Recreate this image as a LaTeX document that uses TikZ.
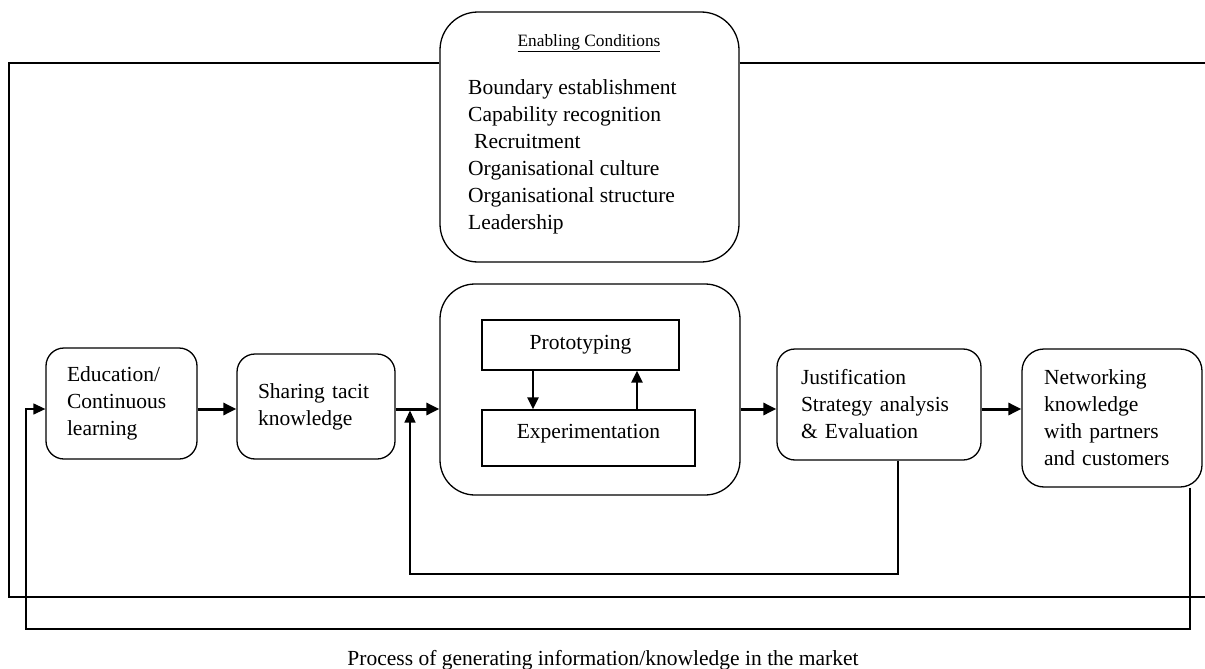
\documentclass[tikz,border=0pt]{standalone}
\usepackage{fontspec}
\setmainfont{Liberation Serif}
\usetikzlibrary{arrows.meta}

\newcommand{\boxfont}{\fontsize{21.5}{27}\selectfont}
\tikzset{
	stage/.style = {draw, line width=1.3pt, rounded corners=18pt, align=left, inner xsep=21pt, inner ysep=0pt, font=\boxfont},
	inbox/.style = {draw, line width=1.3pt, inner sep=0pt, font=\boxfont},
	mainarrow/.style = {line width=3pt, -{Triangle[length=13pt, width=12pt]}},
	innerarrow/.style = {line width=2.5pt, -{Triangle[length=12pt, width=11pt]}},
	feedback/.style = {line width=1.3pt, -{Triangle[length=12pt, width=11pt]}}
}

\begin{document}
\begin{tikzpicture}[x=1pt, y=-1pt]
\useasboundingbox (0,0) rectangle (1205,669);

\node[draw, line width=1.3pt, rounded corners=38pt, minimum width=299pt, minimum height=250pt] (cond) at (589.5,137) {};
\node[font=\fontsize{17.3}{20}\selectfont] (condtitle) at (589,43) {\underline{Enabling Conditions}};
\node[anchor=west, align=left, inner sep=0pt, font=\boxfont] (condlist) at (468,156.5) {Boundary establishment\\Capability recognition\\\hspace{6pt}Recruitment\\Organisational culture\\Organisational structure\\Leadership};

\draw[line width=1.3pt] (cond.west |- 0,63) -- (9,63) -- (9,597) -- (1205,597);
\draw[line width=1.3pt] (cond.east |- 0,63) -- (1205,63);

\node[stage, text width=109pt, minimum height=111pt] (edu) at (121.5,403.5) {Education/\\Continuous\\learning};
\node[stage, text width=116pt, minimum height=105pt] (share) at (316,406.5) {Sharing tacit\\knowledge};
\node[draw, line width=1.3pt, rounded corners=35pt, minimum width=300pt, minimum height=211pt] (cycle) at (590,389.5) {};
\node[inbox, minimum width=197pt, minimum height=50pt] (proto) at (580.5,345) {Prototyping};
\node[inbox, minimum width=213pt, minimum height=56pt, text height=15pt, text depth=15pt] (expe) at (588.5,438) {Experimentation};
\node[stage, inner xsep=24pt, text width=156pt, minimum height=111pt] (just) at (879,404.5) {Justification\\Strategy analysis\\\& Evaluation};
\node[stage, rounded corners=22pt, inner xsep=22pt, text width=136pt, minimum height=138pt] (net) at (1112,418) {Networking\\knowledge\\with partners\\and customers};

\coordinate (flowline) at (0,409);
\foreach \a/\b in {edu/share, share/cycle, cycle/just, just/net}
	\draw[mainarrow] (\a.east |- flowline) -- (\b.west |- flowline);

\draw[innerarrow] (proto.south -| 533,0) -- (expe.north -| 533,0);
\draw[innerarrow] (expe.north -| 637,0) -- (proto.south -| 637,0);

\coordinate (join) at (410,409);
\draw[feedback] (just.south -| 898,0) |- (join |- 0,574) -- ([yshift=-1.5pt]join);
\draw[feedback] (net.south -| 1190,0) |- (26,629) |- (edu.west |- flowline);

\node[anchor=base, font=\boxfont] (caption) at (603,665) {Process of generating information/knowledge in the market};
\end{tikzpicture}
\end{document}
